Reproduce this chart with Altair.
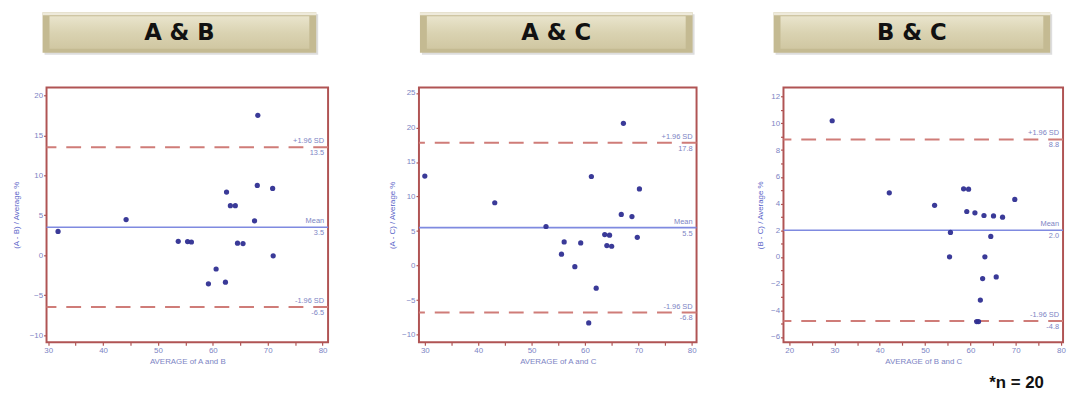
import altair as alt
import pandas as pd

# ---------------- data ----------------
ab_avg = [31.8, 44.2, 53.7, 55.4, 56.1, 59.2, 60.6, 62.3, 62.5, 63.2, 64.1, 64.5, 65.5, 67.6, 68.2, 68.1, 70.9, 71.0]
ab_diff = [2.97, 4.45, 1.73, 1.7, 1.65, -3.58, -1.73, -3.38, 7.9, 6.2, 6.2, 1.5, 1.45, 4.3, 17.5, 8.73, 8.36, -0.08]

ac_avg = [30.0, 43.1, 52.7, 55.6, 56.1, 58.1, 59.2, 61.2, 62.1, 60.7, 63.7, 64.6, 64.1, 65.0, 66.8, 67.2, 68.8, 70.2, 69.8]
ac_diff = [12.97, 9.1, 5.66, 1.65, 3.42, -0.16, 3.28, 12.9, -3.27, -8.3, 4.5, 4.4, 2.9, 2.8, 7.4, 20.6, 7.1, 11.1, 4.1]

bc_avg = [29.5, 42.1, 52.1, 58.5, 59.6, 59.2, 61.0, 63.0, 65.1, 67.1, 69.8, 55.6, 64.5, 55.4, 63.2, 62.7, 65.7, 62.2, 61.4, 61.8]
bc_diff = [10.2, 4.8, 3.86, 5.1, 5.07, 3.4, 3.3, 3.1, 3.07, 2.97, 4.3, 1.83, 1.53, 0.0, 0.0, -1.63, -1.5, -3.24, -4.85, -4.85]

ab_lines = [13.5, 3.5, -6.5]
ac_lines = [17.8, 5.5, -6.8]
bc_lines = [8.8, 2.0, -4.8]
line_names = ["+1.96 SD", "Mean", "-1.96 SD"]

titles = ["A  &  B", "A  &  C", "B  &  C"]
x_titles = ["AVERAGE of A and B", "AVERAGE of A and C", "AVERAGE of B and C"]
y_titles = ["(A - B) / Average %", "(A - C) / Average %", "(B - C) / Average %"]

# tick positions (labelled every 10 on x; minor marks between)
ab_xticks = [30, 35, 40, 45, 50, 55, 60, 65, 70, 75, 80]
ab_yticks = [-10, -5, 0, 5, 10, 15, 20]
ac_xticks = [30, 35, 40, 45, 50, 55, 60, 65, 70, 75, 80]
ac_yticks = [-10, -5, 0, 5, 10, 15, 20, 25]
bc_xticks = [20, 25, 30, 35, 40, 45, 50, 55, 60, 65, 70, 75, 80]
bc_yticks = [-6, -5, -4, -3, -2, -1, 0, 1, 2, 3, 4, 5, 6, 7, 8, 9, 10, 11, 12]

n_note = "*n = 20"

# ---------------- styling ----------------
H = 258
FRAME = "#b05454"
DASH = "#cf7c78"
MEAN = "#7f8ae0"
PT = "#2f2f92"
LAB = "#7c84c4"
TITLE_BLUE = "#5a64c8"


def banner(bx0, bx1, text):
    one = pd.DataFrame({"t": [text]})
    shadow = alt.Chart(one).mark_rect(color="#cfcfcf", opacity=0.7).encode(
        x=alt.value(bx0 + 2), x2=alt.value(bx1 + 2), y=alt.value(-74), y2=alt.value(-33))
    outer = alt.Chart(one).mark_rect(color="#c4ba92").encode(
        x=alt.value(bx0), x2=alt.value(bx1), y=alt.value(-76), y2=alt.value(-35))
    topedge = alt.Chart(one).mark_rect(color="#eeeadb").encode(
        x=alt.value(bx0), x2=alt.value(bx1), y=alt.value(-76), y2=alt.value(-73))
    inner = alt.Chart(one).mark_rect(
        color=alt.LinearGradient(
            gradient="linear",
            stops=[alt.GradientStop(color="#e9e4cc", offset=0),
                   alt.GradientStop(color="#dad3b2", offset=0.5),
                   alt.GradientStop(color="#d0c7a2", offset=1)],
            x1=0, x2=0, y1=0, y2=1)
    ).encode(x=alt.value(bx0 + 7), x2=alt.value(bx1 - 7), y=alt.value(-72), y2=alt.value(-39))
    label = alt.Chart(one).mark_text(
        font="DejaVu Sans", fontSize=23, fontWeight="bold", color="#111111",
        align="center", baseline="middle").encode(
        x=alt.value((bx0 + bx1) / 2), y=alt.value(-55), text="t:N")
    return [shadow, outer, topedge, inner, label]


def panel(avg, diff, lines, xdom, ydom, xticks, yticks, ylab_step, W, title, xtitle, ytitle,
          tpad, bx0, bx1, note=False):
    df = pd.DataFrame({"avg": avg, "diff": diff})
    xs = alt.Scale(domain=xdom, nice=False, zero=False)
    ys = alt.Scale(domain=ydom, nice=False, zero=False)
    xax = alt.Axis(values=xticks, title=xtitle, labelOverlap=False,
                   labelExpr="datum.value % 10 == 0 ? datum.label : ''")
    yax = alt.Axis(values=yticks, title=ytitle, titlePadding=tpad, minExtent=16, maxExtent=16,
                   labelOverlap=False,
                   labelExpr=f"datum.value % {ylab_step} == 0 ? datum.label : ''")

    pts = alt.Chart(df).mark_circle(size=28, color=PT, opacity=0.95).encode(
        x=alt.X("avg:Q", scale=xs, axis=xax),
        y=alt.Y("diff:Q", scale=ys, axis=yax),
    )

    lim = pd.DataFrame({"v": [lines[0], lines[2]]})
    dashed = alt.Chart(lim).mark_rule(color=DASH, strokeWidth=2, strokeDash=[15, 10]).encode(
        y=alt.Y("v:Q", scale=ys, axis=yax))
    mean = alt.Chart(pd.DataFrame({"v": [lines[1]]})).mark_rule(color=MEAN, strokeWidth=1.6).encode(
        y=alt.Y("v:Q", scale=ys, axis=yax))

    tdf = pd.DataFrame({"v": lines, "name": line_names,
                        "val": [f"{v:.1f}" for v in lines]})
    names = alt.Chart(tdf).mark_text(align="right", baseline="bottom", dx=-4, dy=-2,
                                     fontSize=7.5, color=LAB).encode(
        x=alt.datum(xdom[1], scale=xs, axis=xax), y=alt.Y("v:Q", scale=ys, axis=yax), text="name:N")
    vals = alt.Chart(tdf).mark_text(align="right", baseline="top", dx=-4, dy=2,
                                    fontSize=7.5, color=LAB).encode(
        x=alt.datum(xdom[1], scale=xs, axis=xax), y=alt.Y("v:Q", scale=ys, axis=yax), text="val:N")

    layers = banner(bx0, bx1, title) + [dashed, mean, pts, names, vals]
    if note:
        layers.append(alt.Chart(pd.DataFrame({"t": [n_note]})).mark_text(
            font="Liberation Sans", fontSize=17, fontWeight="bold", color="#111111",
            align="center", baseline="middle").encode(
            x=alt.value(236), y=alt.value(299), text="t:N"))
    return alt.layer(*layers).properties(width=W, height=H)


p1 = panel(ab_avg, ab_diff, ab_lines, [29.7, 81.0], [-10.9, 21.0], ab_xticks, ab_yticks, 5,
           285, titles[0], x_titles[0], y_titles[0], 10, -4, 273)
p2 = panel(ac_avg, ac_diff, ac_lines, [28.9, 80.9], [-11.1, 25.8], ac_xticks, ac_yticks, 5,
           281, titles[1], x_titles[1], y_titles[1], 7, 1, 277)
p3 = panel(bc_avg, bc_diff, bc_lines, [18.75, 80.45], [-6.4, 12.7], bc_xticks, bc_yticks, 2,
           283, titles[2], x_titles[2], y_titles[2], 3, -10, 270, note=True)

chart = alt.hconcat(p1, p2, p3, spacing=58).properties(
    padding={"left": 4, "top": 1, "right": 0, "bottom": 0}
).configure_view(
    stroke=FRAME, strokeWidth=2
).configure_axis(
    domain=False, grid=False,
    tickColor=FRAME, tickSize=3, tickWidth=1.2,
    labelColor=LAB, labelFontSize=8, labelFont="Liberation Sans", labelPadding=1,
    titleColor=TITLE_BLUE, titleFontSize=8, titleFont="Liberation Sans", titleFontWeight="normal",
).configure_axisX(titlePadding=3, titleColor=LAB)

chart.save("out.html", embed_options={"renderer": "svg", "actions": False})
